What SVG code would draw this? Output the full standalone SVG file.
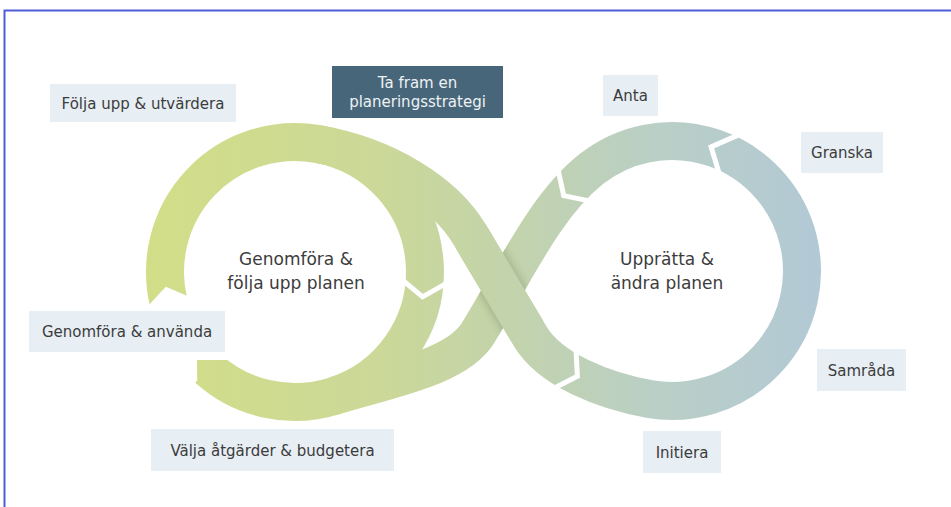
<svg xmlns="http://www.w3.org/2000/svg" width="951" height="507" viewBox="0 0 951 507">
<style>
.lbl{font-family:"DejaVu Sans","Liberation Sans",sans-serif;font-size:15px;fill:#3c3c3c;text-anchor:middle}
.ctr{font-family:"DejaVu Sans","Liberation Sans",sans-serif;font-size:17px;fill:#3c3c3c;text-anchor:middle}
.box{fill:#e7eef4;stroke:#ffffff;stroke-width:8;paint-order:stroke}
.cut{fill:none;stroke:#ffffff;stroke-width:5;stroke-linejoin:miter;stroke-linecap:butt}
.band{fill:none;stroke:url(#g);stroke-width:38;stroke-linecap:butt}
</style>
<defs>
<linearGradient id="g" gradientUnits="userSpaceOnUse" x1="145" y1="0" x2="823" y2="0">
<stop offset="0" stop-color="#d2de87"/>
<stop offset="0.35" stop-color="#cbd898"/>
<stop offset="0.55" stop-color="#c2d3ad"/>
<stop offset="0.75" stop-color="#bacfc5"/>
<stop offset="1" stop-color="#b2c9d6"/>
</linearGradient>
<mask id="mx2" maskUnits="userSpaceOnUse" x="0" y="0" width="951" height="507">
<path d="M591.96,168.56 C544.7,205.5 514.8,273.4 478,333" stroke="#ffffff" stroke-width="38" fill="none"/>
</mask>
<filter id="blur" filterUnits="userSpaceOnUse" x="400" y="170" width="200" height="230">
<feGaussianBlur stdDeviation="3"/>
</filter>
</defs>
<rect width="951" height="507" fill="#ffffff"/>
<path d="M4.5,507 V10.5 H951" fill="none" stroke="#4d5dd9" stroke-width="2"/>

<g id="connectors">
<path class="band" d="M168.33,301.24 A130,130 0 0 1 317.57,143.98 C386.5,156.1 444.5,192 470,235 L530,336 C550.4,370.4 605.1,391.2 649.43,399.03 A130,130 0 1 0 591.96,168.56 C544.7,205.5 514.8,273.4 478,333 C457,367 390.4,378.8 333,396.3 A130,130 0 0 1 208.01,368.61"/>
<path class="band" d="M317.57,143.98 A130,130 0 0 1 333,396.3"/>
<path d="M472,238.4 L527.1,331" stroke="#4a5a3a" stroke-opacity="0.22" stroke-width="44" fill="none" filter="url(#blur)" mask="url(#mx2)"/>
<path class="band" d="M472,238.4 L527.1,331"/>
<polygon points="222.18,355.77 197.25,384.45 196.89,357.29" fill="url(#g)"/>
<polygon points="188.8,296.5 165.84,286.72 147.9,306 155,318 192,306" fill="#ffffff"/>
<polyline class="cut" points="401.74,279.46 422.61,296.81 447.63,282.67"/>
<polyline class="cut" points="552.9,388.7 577.4,376.3 575.9,348.9"/>
<polyline class="cut" points="719.7,175.2 711.1,147 740.3,134.1"/>
<polyline class="cut" points="590.5,201.1 563.7,195.6 557.9,168.9"/>
</g>

<g id="n-folja">
<rect class="box" x="50" y="84" width="186" height="38"/>
<text class="lbl" x="143" y="108.5">Följa upp &amp; utvärdera</text>
</g>
<g id="n-tafram">
<rect x="332" y="66" width="171" height="52" fill="#486679"/>
<text class="lbl" x="417.5" y="88" style="fill:#eef2f5">Ta fram en</text>
<text class="lbl" x="417.5" y="107" style="fill:#eef2f5">planeringsstrategi</text>
</g>
<g id="n-anta">
<rect class="box" x="603" y="75" width="55" height="41"/>
<text class="lbl" x="630.5" y="100.5">Anta</text>
</g>
<g id="n-granska">
<rect class="box" x="801" y="132" width="82" height="41"/>
<text class="lbl" x="842" y="158">Granska</text>
</g>
<g id="n-samrada">
<rect class="box" x="817" y="349" width="89" height="42"/>
<text class="lbl" x="861.5" y="375.5">Samråda</text>
</g>
<g id="n-initiera">
<rect class="box" x="643" y="431" width="78" height="42"/>
<text class="lbl" x="682" y="457.5">Initiera</text>
</g>
<g id="n-valja">
<rect class="box" x="151" y="429" width="243" height="42"/>
<text class="lbl" x="272.5" y="455.5">Välja åtgärder &amp; budgetera</text>
</g>
<g id="n-anvanda">
<rect x="23" y="307" width="210" height="53" fill="#ffffff"/>
<rect class="box" x="29" y="311" width="196" height="41"/>
<text class="lbl" x="127" y="337">Genomföra &amp; använda</text>
</g>
<g id="n-genomfora">
<text class="ctr" x="296" y="265">Genomföra &amp;</text>
<text class="ctr" x="296" y="289">följa upp planen</text>
</g>
<g id="n-uppratta">
<text class="ctr" x="667" y="265">Upprätta &amp;</text>
<text class="ctr" x="667" y="289">ändra planen</text>
</g>
</svg>
